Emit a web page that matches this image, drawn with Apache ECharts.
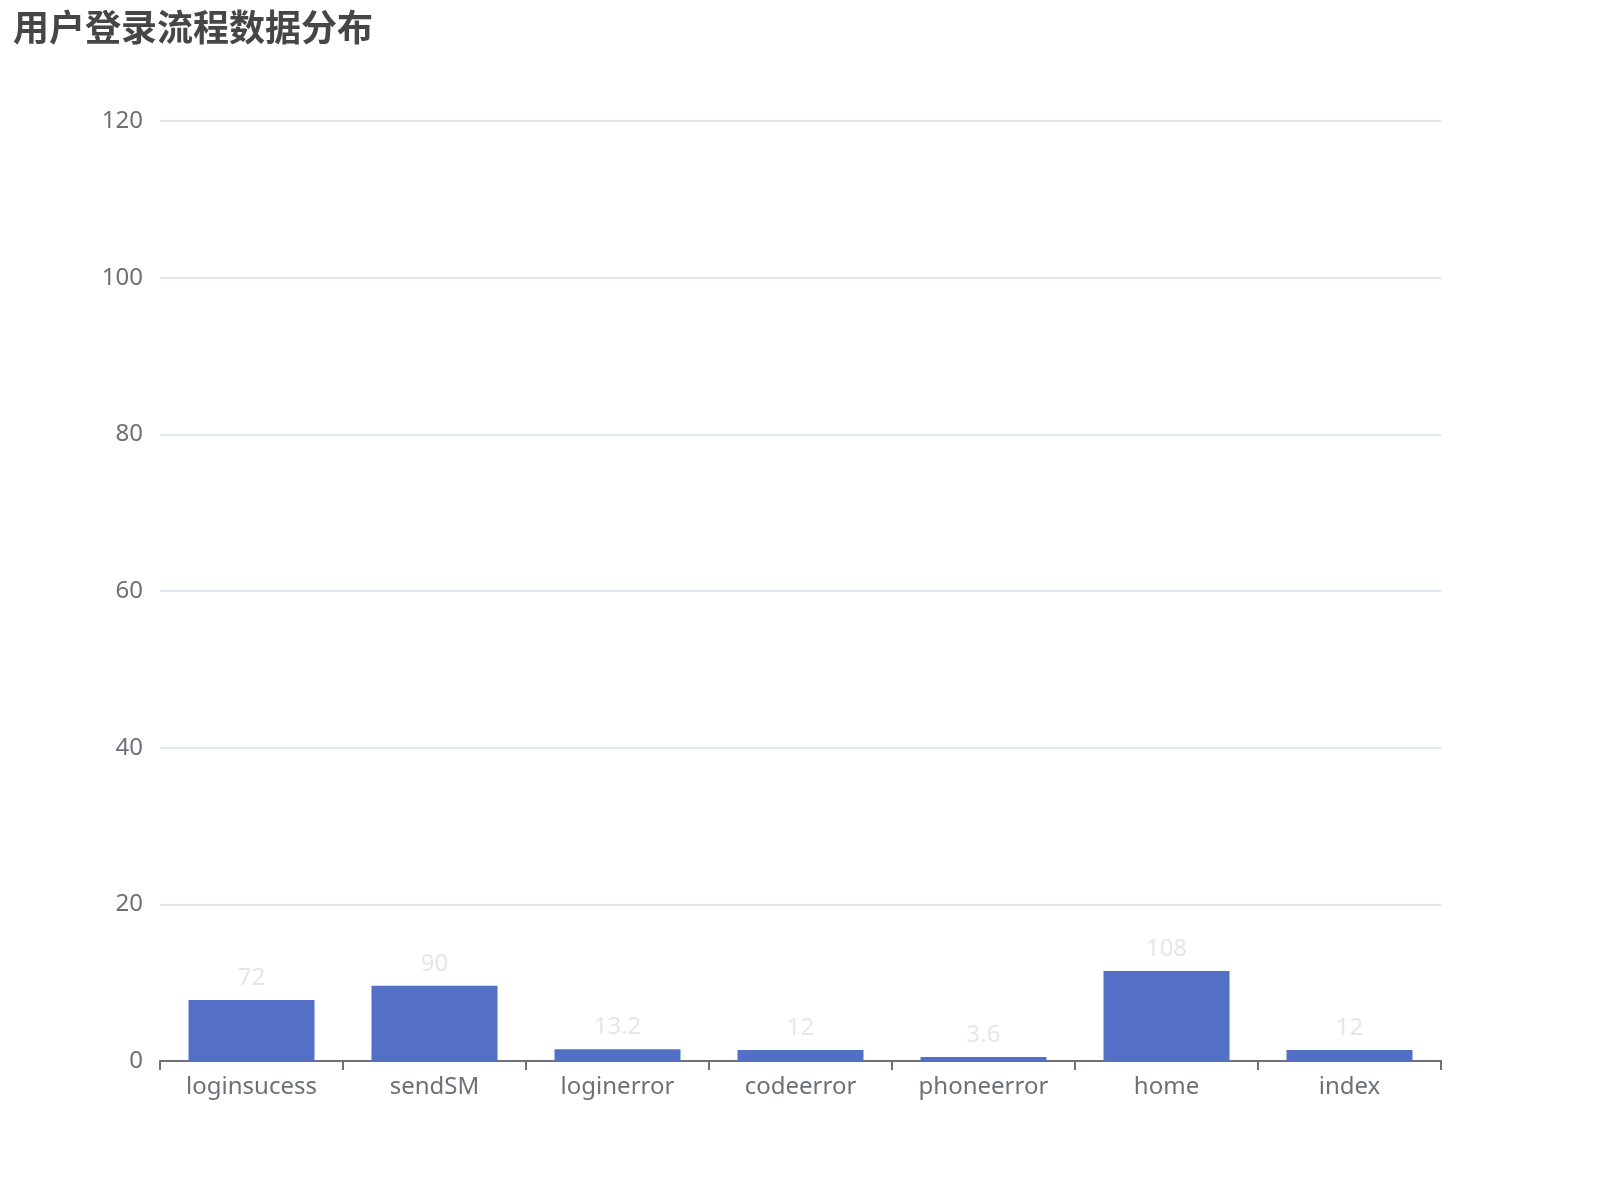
<!DOCTYPE html>
<html>
<head>
    <meta charset="utf-8">
    <title>用户登录流程数据分布</title>
    <script src="https://cdn.jsdelivr.net/npm/echarts@6.0.0/dist/echarts.min.js"></script>
    <style>
        html, body { margin: 0; padding: 0; background: #fff; }
    </style>
</head>
<body>
<div id="main" style="width: 1600px;height:1200px;"></div>
<script type="text/javascript">
    // categories along the x axis
    var categories = ['loginsucess', 'sendSM', 'loginerror', 'codeerror', 'phoneerror', 'home', 'index'];
    // bar heights as read against the y axis
    var barValues = [7.8, 9.6, 1.5, 1.4, 0.5, 11.5, 1.4];
    // numbers printed above the bars
    var labelValues = [72, 90, 13.2, 12, 3.6, 108, 12];
    var yTicks = [0, 20, 40, 60, 80, 100, 120];

    var myChart = echarts.init(document.getElementById('main'));

    var option = {
        title: {
            text: '用户登录流程数据分布',
            left: 8,
            top: 4,
            textStyle: {
                fontSize: 36,
                fontWeight: 'bold',
                color: '#464646',
                fontFamily: 'Noto Sans CJK SC'
            }
        },
        grid: {
            left: 160,
            right: 159,
            top: 121,
            bottom: 139
        },
        xAxis: {
            type: 'category',
            data: categories,
            axisLine: {lineStyle: {color: '#6E7079', width: 2}},
            axisTick: {show: true, length: 9, lineStyle: {color: '#6E7079', width: 2}},
            axisLabel: {
                fontSize: 24,
                color: '#6E7079',
                margin: 14,
                fontFamily: 'Noto Sans'
            }
        },
        yAxis: {
            type: 'value',
            min: yTicks[0],
            max: yTicks[yTicks.length - 1],
            interval: 20,
            splitLine: {lineStyle: {color: '#E0E6F1', width: 2}},
            axisLabel: {
                fontSize: 24,
                color: '#6E7079',
                margin: 17,
                fontFamily: 'Noto Sans'
            }
        },
        series: [{
            type: 'bar',
            data: barValues,
            barWidth: 126,
            itemStyle: {color: '#5470c6'},
            label: {
                show: true,
                position: 'top',
                distance: 10,
                fontSize: 24,
                color: '#e6e6e6',
                fontFamily: 'Noto Sans',
                formatter: function (p) {
                    return labelValues[p.dataIndex];
                }
            }
        }],
        animation: false
    };

    myChart.setOption(option);
</script>
</body>
</html>
